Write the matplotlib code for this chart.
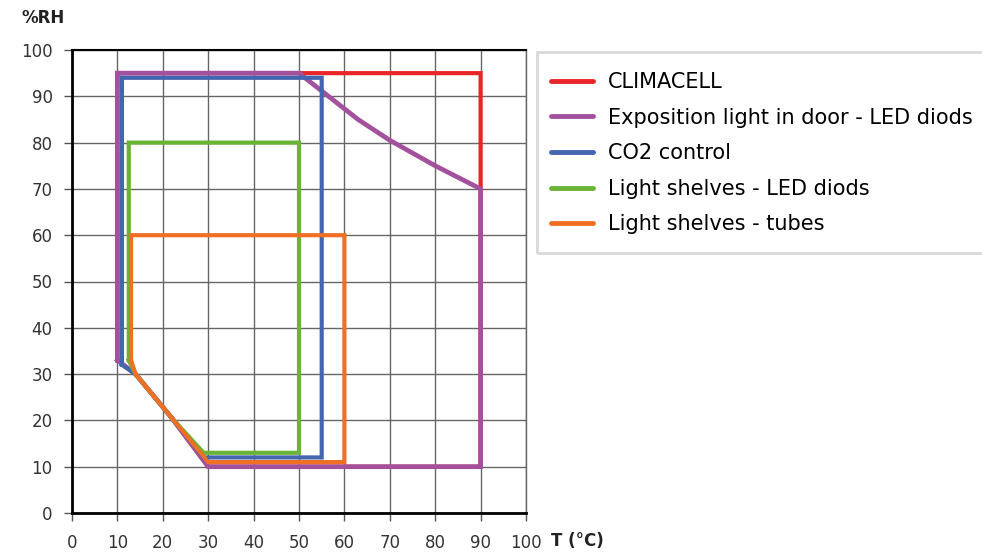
import matplotlib
matplotlib.use("Agg")
import matplotlib.pyplot as plt
from matplotlib.lines import Line2D
from matplotlib.patches import Rectangle

# operating envelopes, (T in degC, RH in %)
climacell_t = [10, 10, 90, 90, 30, 22, 14, 10]
climacell_rh = [33, 95, 95, 10, 10, 20.5, 30, 33]

expo_t = [10, 10, 50, 63, 70, 80, 90, 90, 30, 22, 14, 10]
expo_rh = [33, 95, 95, 85, 80.5, 75, 70, 10, 10, 20.5, 30, 33]

co2_t = [11, 11, 55, 55, 29, 22, 14, 11]
co2_rh = [32, 94, 94, 12, 12, 20.5, 30, 32]

led_t = [12.5, 12.5, 50, 50, 29, 22, 14, 12.5]
led_rh = [33, 80, 80, 13, 13, 20.5, 30, 33]

tubes_t = [13, 13, 60, 60, 30, 22, 14, 13]
tubes_rh = [33, 60, 60, 11, 11, 20.5, 30, 33]

labels = ["CLIMACELL", "Exposition light in door - LED diods", "CO2 control",
          "Light shelves - LED diods", "Light shelves - tubes"]
colors = ["#e8262a", "#a3519d", "#4465b0", "#69b434", "#ef6f25"]

fig = plt.figure(figsize=(9.82, 5.52), dpi=100)
ax = fig.add_axes([72 / 982, 1 - 513 / 552, 454 / 982, 463 / 552])

series = [(climacell_t, climacell_rh, 3.0),
          (expo_t, expo_rh, 3.4),
          (co2_t, co2_rh, 3.0),
          (led_t, led_rh, 3.0),
          (tubes_t, tubes_rh, 3.0)]
for (t, rh, lw), c in zip(series, colors):
    ax.plot(t, rh, color=c, lw=lw, solid_joinstyle="miter", zorder=3)

ax.set_xlim(0, 100)
ax.set_ylim(0, 100)
ax.set_xticks(range(0, 101, 10))
ax.set_yticks(range(0, 101, 10))
ax.grid(True, color="#666666", lw=1.0, zorder=0)
for s in ["left", "bottom"]:
    ax.spines[s].set_linewidth(2.0)
ax.spines["top"].set_linewidth(1.5)
ax.spines["right"].set_color("#666666")
ax.spines["right"].set_linewidth(1.0)
ax.tick_params(axis="both", length=6, width=1.0, color="#555555",
               labelsize=12, labelcolor="#333333", direction="out")
ax.tick_params(axis="x", pad=9)
ax.tick_params(axis="y", pad=8)

fig.text(22 / 982, 1 - 18 / 552, "%RH", fontsize=12, fontweight="bold",
         color="#222222", va="center", ha="left")
fig.text(551 / 982, 1 - 541 / 552, "T (°C)", fontsize=12, fontweight="bold",
         color="#222222", va="center", ha="left")

# legend frame, cut off at the right edge like the reference
fig.patches.append(Rectangle((537 / 982, 1 - 253 / 552), 460 / 982, 201 / 552,
                             transform=fig.transFigure, fill=False,
                             edgecolor="#d9d9d9", lw=2.0))
handles = [Line2D([], [], color=c, lw=3.5, solid_capstyle="round") for c in colors]
fig.legend(handles, labels, loc="upper left",
           bbox_to_anchor=(551 / 982, 1 - 72 / 552), frameon=False,
           fontsize=15, handlelength=2.0, handletextpad=0.75,
           labelspacing=0.75, borderaxespad=0, borderpad=0)

fig.savefig("out.png", dpi=100)
